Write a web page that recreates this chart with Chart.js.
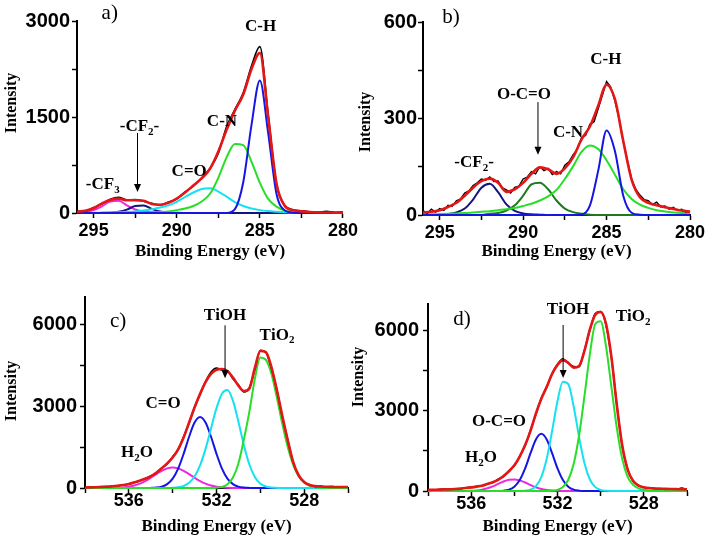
<!DOCTYPE html>
<html lang="en">
<head>
<meta charset="UTF-8">
<title>XPS C 1s and O 1s spectra</title>
<script src="https://cdn.jsdelivr.net/npm/chart.js@4.4.0/dist/chart.umd.min.js"></script>
<style>
  body { margin: 0; background: #fff; }
  #wrap { position: relative; width: 716px; height: 540px; overflow: hidden; }
  canvas { position: absolute; }
</style>
</head>
<body>
<div id="wrap">
  <canvas id="pa" width="360" height="262" style="left:0;top:0"></canvas>
  <canvas id="pb" width="366" height="262" style="left:350px;top:0"></canvas>
  <canvas id="pc" width="360" height="272" style="left:0;top:265px"></canvas>
  <canvas id="pd" width="371" height="272" style="left:345px;top:265px"></canvas>
</div>
<script>
// binding energy grids (eV)
const c1sE = [296,295.5,295,294.5,294,293.5,293,292.5,292,291.5,291,290.5,290,289.5,289,288.5,288,287.5,287,286.5,286,285.5,285,284.5,284,283.5,283,282.5,282,281.5,281,280.5,280];
const c1sFineE = [296,295.75,295.5,295.25,295,294.75,294.5,294.25,294,293.75,293.5,293.25,293,292.75,292.5,292.25,292,291.75,291.5,291.25,291,290.75,290.5,290.25,290,289.75,289.5,289.25,289,288.75,288.5,288.25,288,287.75,287.5,287.25,287,286.75,286.5,286.25,286,285.75,285.5,285.25,285,284.75,284.5,284.25,284,283.75,283.5,283.25,283,282.75,282.5,282.25,282,281.75,281.5,281.25,281,280.75,280.5,280.25,280];
const o1sE = [538,537.75,537.5,537.25,537,536.75,536.5,536.25,536,535.75,535.5,535.25,535,534.75,534.5,534.25,534,533.75,533.5,533.25,533,532.75,532.5,532.25,532,531.75,531.5,531.25,531,530.75,530.5,530.25,530,529.75,529.5,529.25,529,528.75,528.5,528.25,528,527.75,527.5,527.25,527,526.75,526.5,526.25,526];

// tick values
const c1sTicks = [295, 292.5, 290, 287.5, 285, 282.5, 280];
const c1sLabels = [295, 290, 285, 280];
const o1sTicks = [538, 536, 534, 532, 530, 528, 526];
const o1sLabels = [536, 532, 528];
const aYTicks = [0, 750, 1500, 2250, 3000];
const aYLabels = [0, 1500, 3000];
const bYTicks = [0, 150, 300, 450, 600];
const bYLabels = [0, 300, 600];
const cdYTicks = [0, 1500, 3000, 4500, 6000];
const cdYLabels = [0, 3000, 6000];

// a) C 1s
const aData = [25,30,85,140,215,245,205,210,185,150,125,170,220,330,420,550,700,930,1350,1620,1880,2300,2600,1540,450,120,50,35,20,15,25,10,15];
const aFit  = [20,35,75,150,205,225,200,200,190,140,130,160,225,320,430,540,690,960,1300,1600,1850,2250,2500,1500,460,110,45,25,15,10,8,5,5];
const aCH   = [0,0,0,0,0,0,0,0,0,0,0,0,0,0,0,0,0,0,0,60,480,1380,2070,1250,300,40,5,0,0,0,0,0,0];
const aCN   = [0,0,0,1,2,3,5,6,8,10,15,25,45,70,110,180,300,550,870,1080,1060,800,470,220,100,40,18,8,4,2,1,0,0];
const aCO   = [0,1,2,4,6,10,15,25,40,60,85,120,175,250,320,375,385,335,255,170,110,70,45,30,20,12,8,5,3,2,1,0,0];
const aCF3  = [5,15,45,105,180,190,120,55,25,12,5,2,0,0,0,0,0,0,0,0,0,0,0,0,0,0,0,0,0,0,0,0,0];
const aCF2  = [0,0,0,2,5,18,52,110,118,65,22,8,3,1,0,0,0,0,0,0,0,0,0,0,0,0,0,0,0,0,0,0,0];

// b) C 1s
const bData = [14,5,18,9,20,14,30,27,44,50,68,75,92,100,112,108,118,104,106,84,78,68,86,90,112,118,135,128,150,138,145,126,135,128,155,165,188,205,240,248,282,290,330,372,415,398,355,300,228,170,112,80,62,48,45,32,40,25,28,18,24,14,18,9,12];
const bFit  = [8,10,15,25,38,60,85,105,113,100,72,80,100,128,148,142,128,145,180,235,275,340,405,360,230,110,55,38,30,24,19,14,10];
const bCH   = [0,0,0,0,0,0,0,0,0,0,0,0,0,0,0,0,0,0,0,2,29,138,263,199,60,7,1,0,0,0,0,0,0];
const bCN   = [2,2,3,4,5,6,8,10,12,15,18,22,28,35,45,58,78,112,152,196,216,205,170,125,80,50,32,22,15,11,8,6,5];
const bOCO  = [0,0,0,0,0,0,0,0,4,6,14,30,60,95,100,80,45,20,9,4,1,0,0,0,0,0,0,0,0,0,0,0,0];
const bCF2  = [0,0,0,3,8,20,48,85,97,71,33,13,5,2,1,0,0,0,0,0,0,0,0,0,0,0,0,0,0,0,0,0,0];

// c) O 1s
const cData = [30,20,35,45,40,70,80,120,145,210,260,350,440,550,730,880,1150,1400,1880,2380,2980,3420,3900,4250,4400,4330,4300,4000,3780,3520,3680,4350,5050,4980,4400,3620,2620,1780,930,470,210,120,60,75,40,55,30,45,30];
const cFit  = [20,25,30,40,50,65,85,110,150,200,270,340,430,560,720,900,1120,1420,1850,2400,2950,3450,3880,4180,4330,4360,4280,4050,3750,3550,3650,4400,5020,4980,4450,3600,2650,1750,950,460,220,110,70,55,45,40,38,35,35];
const cTiO2 = [0,0,0,0,0,0,0,0,0,0,0,0,0,0,0,0,0,0,0,0,0,0,0,2,11,42,138,385,900,1780,2800,4000,4780,4700,4205,3330,2360,1500,850,430,200,80,30,10,3,1,0,0,0];
const cTiOH = [0,0,0,0,0,0,0,0,0,0,0,0,0,0,0,0,8,26,74,189,421,828,1433,2184,2928,3455,3590,3200,2430,1570,860,403,159,54,16,4,1,0,0,0,0,0,0,0,0,0,0,0,0];
const cCO   = [0,0,0,0,0,0,0,0,0,0,0,0,4,15,49,140,341,709,1253,1879,2397,2600,2397,1879,1253,709,341,140,49,15,4,1,0,0,0,0,0,0,0,0,0,0,0,0,0,0,0,0,0];
const cH2O  = [0,0,0,0,1,4,10,23,47,90,158,254,375,508,631,718,750,718,631,508,375,254,158,90,47,23,10,4,1,0,0,0,0,0,0,0,0,0,0,0,0,0,0,0,0,0,0,0,0];

// d) O 1s
const dData = [60,35,55,70,60,85,80,120,130,175,190,270,320,440,540,760,940,1310,1700,2280,2870,3480,3880,4400,4750,4950,4780,4660,4650,5280,6020,6640,6720,6200,4980,3230,1680,820,360,220,130,120,90,95,70,80,65,110,55];
const dFit  = [40,45,50,55,65,75,90,110,135,165,200,260,330,420,560,740,960,1290,1720,2250,2900,3450,3900,4380,4720,4900,4800,4620,4680,5250,6050,6600,6700,6250,5000,3200,1700,800,380,200,140,110,95,85,80,75,70,65,60];
const dTiO2 = [0,0,0,0,0,0,0,0,0,0,0,0,0,0,0,0,0,0,0,0,0,0,0,10,43,146,421,1018,2078,3558,5124,6250,6350,5400,3882,2350,1193,530,230,100,45,20,10,5,2,0,0,0,0];
const dTiOH = [0,0,0,0,0,0,0,0,0,0,0,0,0,0,0,0,0,0,12,52,183,522,1205,2244,3370,4090,4000,3164,2015,1036,430,144,39,10,2,0,0,0,0,0,0,0,0,0,0,0,0,0,0];
const dOCO  = [0,0,0,0,0,0,0,0,0,0,0,0,0,3,14,52,162,409,845,1415,1930,2140,1930,1415,845,409,162,52,14,3,0,0,0,0,0,0,0,0,0,0,0,0,0,0,0,0,0,0,0];
const dH2O  = [0,0,0,0,0,0,1,3,9,23,51,100,173,264,354,418,435,397,319,226,141,78,37,16,6,2,0,0,0,0,0,0,0,0,0,0,0,0,0,0,0,0,0,0,0,0,0,0,0];

const RED = 'rgb(228,22,22)', GREEN = 'rgb(40,222,40)', BLUE = 'rgb(22,22,228)',
      CYAN = 'rgb(20,226,240)', MAGENTA = 'rgb(238,40,222)', NAVY = 'rgb(20,20,128)',
      DKGREEN = 'rgb(30,120,30)';

function pts(xs, ys) {
    return xs.map(function (x, i) { return {x: x, y: ys[i]}; });
}
function line(xs, ys, color, width, order, smooth) {
    return {
        data: pts(xs, ys), borderColor: color, borderWidth: width, order: order,
        pointRadius: 0, fill: false, clip: false,
        tension: smooth ? 0.4 : 0, cubicInterpolationMode: smooth ? 'monotone' : 'default'
    };
}

// labels/arrows in data units, y titles in canvas pixels
const notes = {
    pa: {
        yTitle: [12, 103],
        labels: [
            {text: 'a)', x: 294.03, y: 3125, size: 21, weight: 'normal'},
            {text: 'C-H', x: 284.96, y: 2906},
            {text: 'C-N', x: 287.28, y: 1422},
            {text: 'C=O', x: 289.25, y: 640},
            {text: '-CF_2-', x: 292.24, y: 1344},
            {text: '-CF_3', x: 294.45, y: 437}
        ],
        arrows: [{x: 292.36, from: 1250, to: 328}]
    },
    pb: {
        yTitle: [16, 122],
        labels: [
            {text: 'b)', x: 294.32, y: 615, size: 21, weight: 'normal'},
            {text: 'C-H', x: 285.04, y: 482},
            {text: 'O-C=O', x: 289.95, y: 373},
            {text: 'C-N', x: 287.31, y: 255},
            {text: '-CF_2-', x: 292.94, y: 162}
        ],
        arrows: [{x: 289.11, from: 351, to: 187}]
    },
    pc: {
        yTitle: [12, 126],
        labels: [
            {text: 'c)', x: 536.49, y: 6110, size: 21, weight: 'normal'},
            {text: 'TiOH', x: 531.61, y: 6330},
            {text: 'TiO_2', x: 529.24, y: 5598},
            {text: 'C=O', x: 534.44, y: 3110},
            {text: 'H_2O', x: 535.63, y: 1281}
        ],
        arrows: [{x: 531.61, from: 5964, to: 4025}]
    },
    pd: {
        yTitle: [14, 112],
        labels: [
            {text: 'd)', x: 536.42, y: 6402, size: 21, weight: 'normal'},
            {text: 'TiOH', x: 531.51, y: 6776},
            {text: 'TiO_2', x: 528.5, y: 6514},
            {text: 'O-C=O', x: 534.71, y: 2583},
            {text: 'H_2O', x: 535.54, y: 1235}
        ],
        arrows: [{x: 531.74, from: 6215, to: 4231}]
    }
};

const SERIF = '"Liberation Serif", "Times New Roman", serif';

function drawRich(ctx, text, cx, cy, size, weight) {
    var parts = [];
    for (var i = 0; i < text.length; i++) {
        if (text[i] === '_') { parts.push({t: text[i + 1], sub: true}); i++; }
        else parts.push({t: text[i], sub: false});
    }
    var w = 0;
    parts.forEach(function (p) {
        p.font = weight + ' ' + (p.sub ? Math.round(size * 0.65) : size) + 'px ' + SERIF;
        ctx.font = p.font;
        p.w = ctx.measureText(p.t).width;
        w += p.w;
    });
    var x = cx - w / 2;
    ctx.textAlign = 'left';
    parts.forEach(function (p) {
        ctx.font = p.font;
        ctx.fillText(p.t, x, cy + (p.sub ? size * 0.3 : 0));
        x += p.w;
    });
}

const notesPlugin = {
    id: 'notes',
    afterDatasetsDraw: function (chart) {
        var n = notes[chart.canvas.id];
        var ctx = chart.ctx, sx = chart.scales.x, sy = chart.scales.y;
        ctx.save();
        ctx.fillStyle = '#000';
        ctx.strokeStyle = '#000';
        ctx.textBaseline = 'middle';
        n.labels.forEach(function (l) {
            drawRich(ctx, l.text, sx.getPixelForValue(l.x), sy.getPixelForValue(l.y), l.size || 17, l.weight || 'bold');
        });
        n.arrows.forEach(function (a) {
            var px = sx.getPixelForValue(a.x), y1 = sy.getPixelForValue(a.from), y2 = sy.getPixelForValue(a.to);
            ctx.lineWidth = 1;
            ctx.beginPath(); ctx.moveTo(px, y1); ctx.lineTo(px, y2 - 6); ctx.stroke();
            ctx.beginPath(); ctx.moveTo(px - 3.5, y2 - 8); ctx.lineTo(px + 3.5, y2 - 8); ctx.lineTo(px, y2); ctx.closePath(); ctx.fill();
        });
        ctx.translate(n.yTitle[0], n.yTitle[1]);
        ctx.rotate(-Math.PI / 2);
        ctx.textAlign = 'center';
        ctx.font = 'bold 16px ' + SERIF;
        ctx.fillText('Intensity', 0, 0);
        ctx.restore();
    }
};

function panel(id, p) {
    var sans = '"Liberation Sans", Arial, sans-serif';
    var grid = {display: true, drawOnChartArea: false, drawTicks: true, tickLength: 5, tickColor: '#000', tickWidth: 1.5};
    var border = {display: true, color: '#000', width: 2};
    new Chart(document.getElementById(id), {
        type: 'line',
        data: {datasets: p.sets},
        options: {
            responsive: false,
            animation: false,
            events: [],
            layout: {padding: p.pad},
            plugins: {legend: {display: false}, tooltip: {enabled: false}},
            scales: {
                x: {
                    type: 'linear', reverse: true, min: p.xMin, max: p.xMax,
                    afterFit: function (s) { s.height = p.xH; },
                    afterBuildTicks: function (s) { s.ticks = p.xTicks.map(function (v) { return {value: v}; }); },
                    ticks: {
                        font: {family: sans, size: 18, weight: 'bold'}, color: '#000', padding: p.xPad,
                        autoSkip: false, maxRotation: 0,
                        callback: function (v) { return p.xLabels.indexOf(v) >= 0 ? String(v) : ''; }
                    },
                    grid: grid, border: border,
                    title: {display: true, text: 'Binding Energy (eV)', color: '#000',
                            font: {family: SERIF, size: 17, weight: 'bold'}, padding: {top: 0, bottom: 0}}
                },
                y: {
                    min: 0, max: p.yMax,
                    afterFit: function (s) { s.width = p.yW; },
                    afterBuildTicks: function (s) { s.ticks = p.yTicks.map(function (v) { return {value: v}; }); },
                    ticks: {
                        font: {family: sans, size: 20, weight: 'bold'}, color: '#000', padding: p.yPad,
                        autoSkip: false,
                        callback: function (v) { return p.yLabels.indexOf(v) >= 0 ? String(v) : ''; }
                    },
                    grid: grid, border: border
                }
            }
        },
        plugins: [notesPlugin]
    });
}

panel('pa', {
    pad: {top: 21, right: 15, left: 0, bottom: 0}, xH: 49, yW: 77, xPad: 2, yPad: 2,
    xMin: 280, xMax: 296, xTicks: c1sTicks, xLabels: c1sLabels,
    yMax: 3000, yTicks: aYTicks, yLabels: aYLabels,
    sets: [
        line(c1sE, aFit, RED, 2.6, 0, true),
        line(c1sE, aData, '#000', 1.6, 1, true),
        line(c1sE, aCH, BLUE, 2, 2, true),
        line(c1sE, aCN, GREEN, 2, 3, true),
        line(c1sE, aCO, CYAN, 2, 4, true),
        line(c1sE, aCF2, NAVY, 2, 5, true),
        line(c1sE, aCF3, MAGENTA, 2, 6, true)
    ]
});

panel('pb', {
    pad: {top: 22, right: 26, left: 0, bottom: 0}, xH: 47, yW: 73, xPad: 2, yPad: 1,
    xMin: 280, xMax: 296, xTicks: c1sTicks, xLabels: c1sLabels,
    yMax: 600, yTicks: bYTicks, yLabels: bYLabels,
    sets: [
        line(c1sE, bFit, RED, 2.6, 0, true),
        line(c1sFineE, bData, '#000', 1.4, 1, false),
        line(c1sE, bCH, BLUE, 2, 2, true),
        line(c1sE, bCN, GREEN, 2, 3, true),
        line(c1sE, bOCO, DKGREEN, 2, 4, true),
        line(c1sE, bCF2, NAVY, 2, 5, true)
    ]
});

panel('pc', {
    pad: {top: 32, right: 12, left: 0, bottom: 0}, xH: 49, yW: 85, xPad: -3, yPad: 3,
    xMin: 526, xMax: 538, xTicks: o1sTicks, xLabels: o1sLabels,
    yMax: 7000, yTicks: cdYTicks, yLabels: cdYLabels,
    sets: [
        line(o1sE, cFit, RED, 2.6, 0, true),
        line(o1sE, cData, '#000', 1.6, 1, true),
        line(o1sE, cTiO2, GREEN, 2, 2, true),
        line(o1sE, cTiOH, CYAN, 2, 3, true),
        line(o1sE, cCO, BLUE, 2, 4, true),
        line(o1sE, cH2O, MAGENTA, 2, 5, true)
    ]
});

panel('pd', {
    pad: {top: 39, right: 29, left: 0, bottom: 0}, xH: 46, yW: 83, xPad: -3, yPad: 4,
    xMin: 526, xMax: 538, xTicks: o1sTicks, xLabels: o1sLabels,
    yMax: 7000, yTicks: cdYTicks, yLabels: cdYLabels,
    sets: [
        line(o1sE, dFit, RED, 2.6, 0, true),
        line(o1sE, dData, '#000', 1.6, 1, true),
        line(o1sE, dTiO2, GREEN, 2, 2, true),
        line(o1sE, dTiOH, CYAN, 2, 3, true),
        line(o1sE, dOCO, BLUE, 2, 4, true),
        line(o1sE, dH2O, MAGENTA, 2, 5, true)
    ]
});
</script>
</body>
</html>
